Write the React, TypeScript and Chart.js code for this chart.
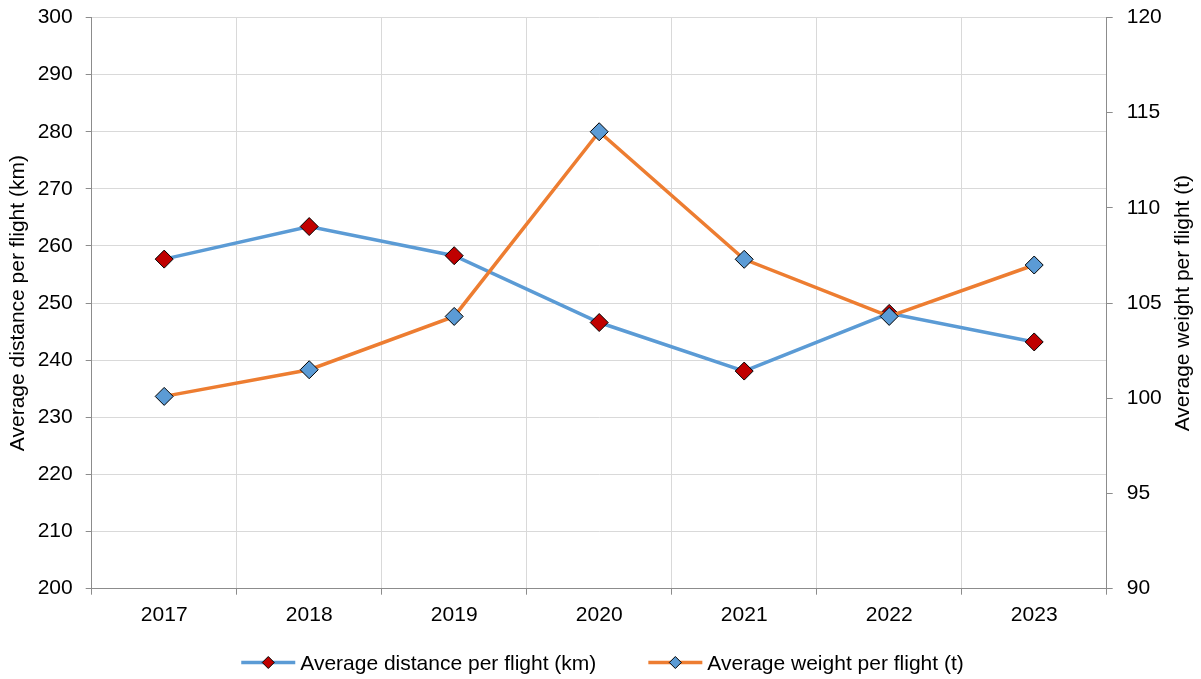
import React, { useEffect, useRef } from "react";
import { Chart, registerables } from "chart.js";

Chart.register(...registerables);

// ---- Data ----
const years = ["2017", "2018", "2019", "2020", "2021", "2022", "2023"];
const distanceKm = [257.7, 263.4, 258.3, 246.6, 238.1, 248.2, 243.2];
const weightT = [100.1, 101.5, 104.3, 114.0, 107.3, 104.3, 107.0];
const distanceLabel = "Average distance per flight (km)";
const weightLabel = "Average weight per flight (t)";
const leftRange = [200, 300];
const leftStep = 10;
const rightRange = [90, 120];
const rightStep = 5;

// ---- Styles ----
const FONT_FAMILY = "'Liberation Sans', Arial, sans-serif";
const FONT_SIZE = 21;
const BLUE = "#5B9BD5";
const ORANGE = "#ED7D31";
const RED = "#C00000";
const AXIS = "#8c8c8c";
const GRID = "#d9d9d9";
const TEXT = "#000000";

const legendItems = [
  { label: distanceLabel, line: BLUE, marker: RED },
  { label: weightLabel, line: ORANGE, marker: BLUE },
];

const customLegend = {
  id: "customLegend",
  afterDraw(chart: any) {
    const ctx = chart.ctx as CanvasRenderingContext2D;
    ctx.save();
    ctx.font = `${FONT_SIZE}px ${FONT_FAMILY}`;
    const lineW = 54;
    const gapText = 5;
    const gapItem = 52;
    const widths = legendItems.map((it) => ctx.measureText(it.label).width);
    const total =
      widths.reduce((a, w) => a + lineW + gapText + w, 0) + gapItem * (legendItems.length - 1);
    let x = chart.width / 2 - total / 2 + 2;
    const y = 662.5;
    legendItems.forEach((it, i) => {
      ctx.strokeStyle = it.line;
      ctx.lineWidth = 3.5;
      ctx.beginPath();
      ctx.moveTo(x, y);
      ctx.lineTo(x + lineW, y);
      ctx.stroke();
      const cx = x + lineW / 2;
      const r = 6;
      ctx.beginPath();
      ctx.moveTo(cx - r, y);
      ctx.lineTo(cx, y - r);
      ctx.lineTo(cx + r, y);
      ctx.lineTo(cx, y + r);
      ctx.closePath();
      ctx.fillStyle = it.marker;
      ctx.fill();
      ctx.strokeStyle = "#000";
      ctx.lineWidth = 1;
      ctx.stroke();
      ctx.fillStyle = TEXT;
      ctx.textBaseline = "middle";
      ctx.textAlign = "left";
      ctx.fillText(it.label, x + lineW + gapText, y + 1.5);
      x += lineW + gapText + widths[i] + gapItem;
    });

    // right axis title, reading bottom-to-top
    const area = chart.chartArea;
    ctx.translate(1183, (area.top + area.bottom) / 2);
    ctx.rotate(-Math.PI / 2);
    ctx.textAlign = "center";
    ctx.textBaseline = "middle";
    ctx.fillStyle = TEXT;
    ctx.fillText(weightLabel, 0, 0);
    ctx.restore();
  },
};

export default function App() {
  const canvasRef = useRef<HTMLCanvasElement | null>(null);

  useEffect(() => {
    if (!canvasRef.current) return;
    const font = { family: FONT_FAMILY, size: FONT_SIZE };
    const chart = new Chart(canvasRef.current, {
      type: "line",
      data: {
        labels: years,
        datasets: [
          {
            label: distanceLabel,
            data: distanceKm,
            yAxisID: "y",
            borderColor: BLUE,
            borderWidth: 3.5,
            pointStyle: "rectRot",
            pointRadius: 9,
            pointBackgroundColor: RED,
            pointBorderColor: "#000",
            pointBorderWidth: 1,
            tension: 0,
            order: 1,
          },
          {
            label: weightLabel,
            data: weightT,
            yAxisID: "y1",
            borderColor: ORANGE,
            borderWidth: 3.5,
            pointStyle: "rectRot",
            pointRadius: 9,
            pointBackgroundColor: BLUE,
            pointBorderColor: "#000",
            pointBorderWidth: 1,
            tension: 0,
            order: 0,
          },
        ],
      },
      options: {
        responsive: false,
        animation: false,
        devicePixelRatio: 1,
        layout: { padding: { top: 17.5, left: 0, right: 0, bottom: 0 } },
        plugins: {
          legend: { display: false },
          tooltip: { enabled: false },
        },
        scales: {
          x: {
            type: "category",
            offset: true,
            grid: { offset: true, color: GRID, tickColor: AXIS, tickLength: 6, lineWidth: 1 },
            border: { color: AXIS, width: 1 },
            ticks: { font, color: TEXT, padding: 8, maxRotation: 0 },
            afterFit: (s: any) => {
              s.height = 90.3;
              s.paddingLeft = 0;
              s.paddingRight = 0;
            },
          },
          y: {
            position: "left",
            min: leftRange[0],
            max: leftRange[1],
            ticks: { stepSize: leftStep, font, color: TEXT, padding: 13 },
            grid: { color: GRID, tickColor: AXIS, tickLength: 6, lineWidth: 1 },
            border: { color: AXIS, width: 1 },
            title: {
              display: true,
              text: distanceLabel,
              font,
              color: TEXT,
              padding: { top: 6, bottom: 0 },
            },
            afterFit: (s: any) => {
              s.width = 91.7;
              s.paddingTop = 0;
              s.paddingBottom = 0;
            },
          },
          y1: {
            position: "right",
            min: rightRange[0],
            max: rightRange[1],
            ticks: { stepSize: rightStep, font, color: TEXT, padding: 14 },
            grid: { drawOnChartArea: false, tickColor: AXIS, tickLength: 6, lineWidth: 1 },
            border: { color: AXIS, width: 1 },
            afterFit: (s: any) => {
              s.width = 94.3;
              s.paddingTop = 0;
              s.paddingBottom = 0;
            },
          },
        },
      },
      plugins: [customLegend],
    });
    return () => chart.destroy();
  }, []);

  return (
    <div style={{ position: "absolute", left: 0, top: 0, width: 1201, height: 679, background: "#fff" }}>
      <canvas ref={canvasRef} width={1201} height={679} style={{ display: "block" }} />
    </div>
  );
}
